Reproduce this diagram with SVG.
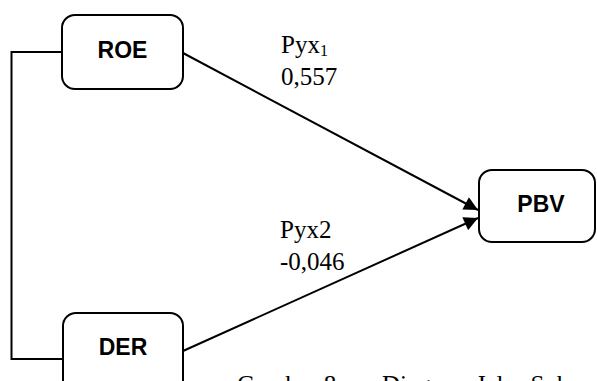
<svg xmlns="http://www.w3.org/2000/svg" width="597" height="381" viewBox="0 0 597 381">
  <style>
    .box { fill: #ffffff; stroke: #000000; stroke-width: 2; }
    .name { font-family: "Liberation Sans", Arial, sans-serif; font-weight: bold; font-size: 23px; text-anchor: middle; fill: #000000; }
    .coef { font-family: "Liberation Serif", "Times New Roman", serif; font-size: 25px; fill: #000000; }
    .link { fill: none; stroke: #000000; stroke-width: 2; }
  </style>
  <defs>
    <marker id="arrow" viewBox="0 0 10 10" refX="10" refY="5" markerWidth="8" markerHeight="7" markerUnits="strokeWidth" orient="auto">
      <path d="M0,0 L10,5 L0,10 Z" fill="#000000"/>
    </marker>
  </defs>

  <rect width="597" height="381" fill="#ffffff"/>

  <!-- connectors -->
  <g id="connectors">
    <polyline class="link" points="62,52 11.5,52 11.5,359 63,359"/>
    <line class="link" x1="183" y1="53" x2="478" y2="210" marker-end="url(#arrow)"/>
    <line class="link" x1="183" y1="351" x2="478" y2="218" marker-end="url(#arrow)"/>
  </g>

  <!-- nodes -->
  <g id="roe">
    <rect class="box" x="62" y="15" width="121" height="74" rx="13"/>
    <text class="name" x="122.5" y="58">ROE</text>
  </g>
  <g id="der">
    <rect class="box" x="63" y="313" width="120" height="90" rx="13"/>
    <text class="name" x="123" y="355">DER</text>
  </g>
  <g id="pbv">
    <rect class="box" x="479" y="170" width="116" height="72" rx="13"/>
    <text class="name" x="541" y="212">PBV</text>
  </g>

  <!-- path coefficients -->
  <g id="label-pyx1">
    <text class="coef" x="281" y="53">Pyx<tspan font-size="16" dy="3">1</tspan></text>
    <text class="coef" x="281" y="85">0,557</text>
  </g>
  <g id="label-pyx2">
    <text class="coef" x="280" y="238">Pyx2</text>
    <text class="coef" x="280" y="270">-0,046</text>
  </g>

  <!-- caption -->
  <text class="coef" y="393" font-size="30"><tspan x="237">Gambar 8</tspan><tspan x="382">Diagram Jalur Sub</tspan></text>
</svg>
